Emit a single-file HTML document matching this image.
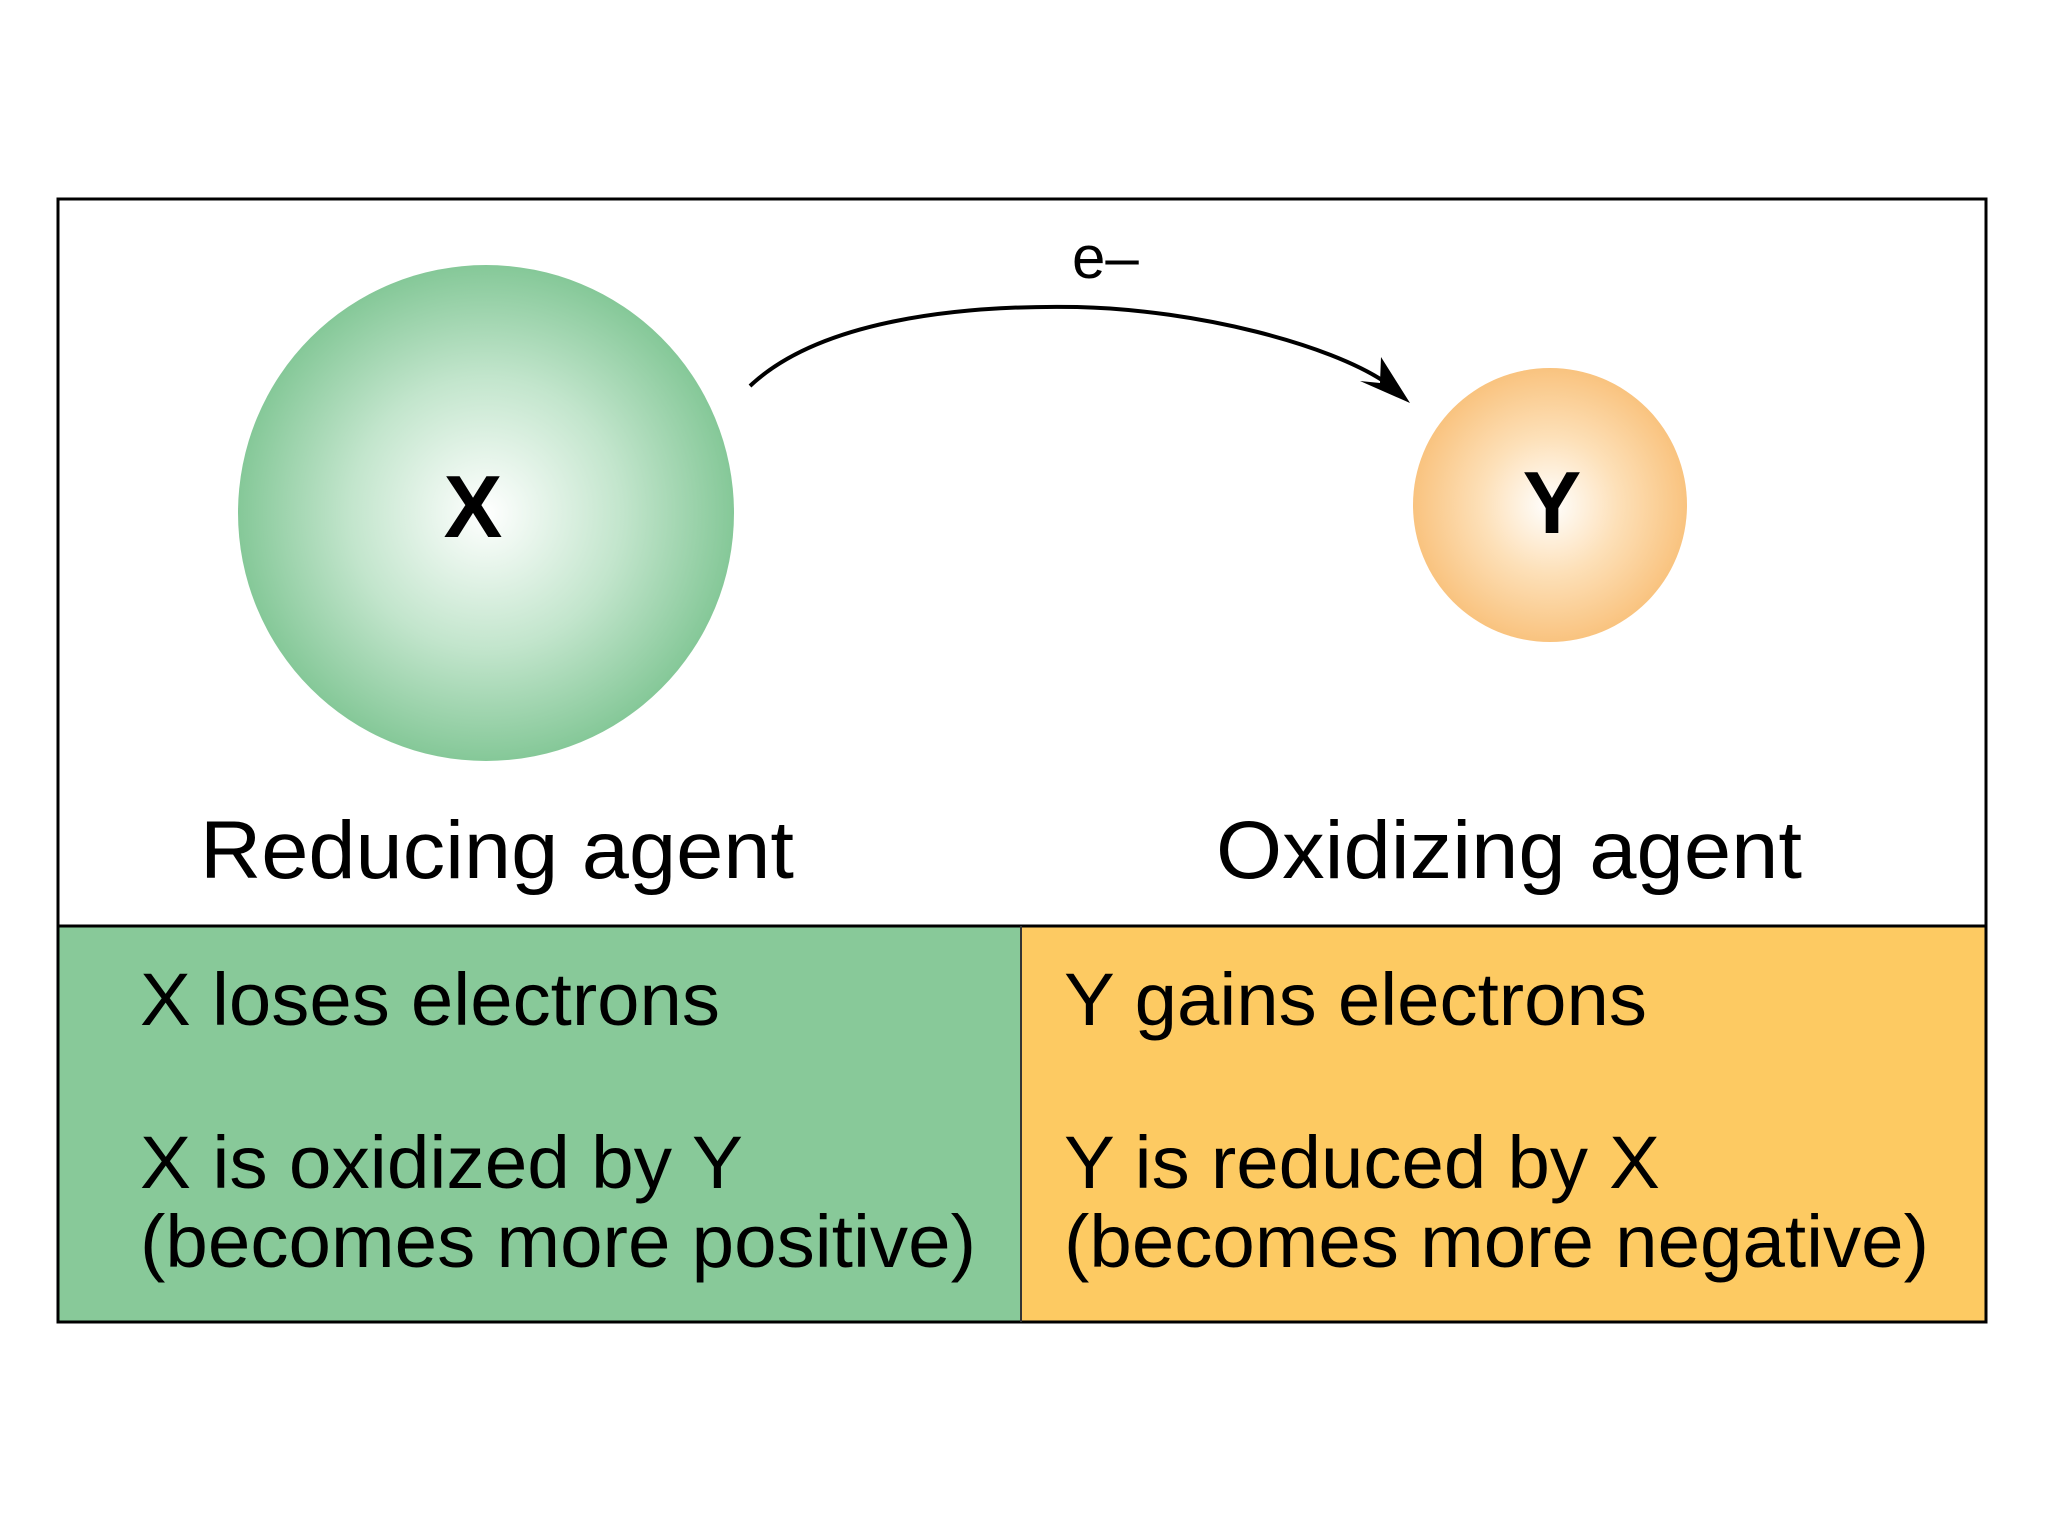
<!DOCTYPE html>
<html><head><meta charset="utf-8"><style>
html,body{margin:0;padding:0;background:#fff;}
svg{display:block;}
text{font-family:"Liberation Sans",Arial,sans-serif;fill:#000;}
</style></head><body>
<svg width="2048" height="1536" viewBox="0 0 2048 1536" xmlns="http://www.w3.org/2000/svg">
<defs>
<radialGradient id="g" cx="0.5" cy="0.5" r="0.5">
<stop offset="0" stop-color="#ffffff"/>
<stop offset="0.55" stop-color="#c2e5cc"/>
<stop offset="1" stop-color="#85c898"/>
</radialGradient>
<radialGradient id="o" cx="0.5" cy="0.5" r="0.5">
<stop offset="0" stop-color="#ffffff"/>
<stop offset="0.5" stop-color="#fde0b8"/>
<stop offset="1" stop-color="#f9c37f"/>
</radialGradient>
</defs>
<rect x="0" y="0" width="2048" height="1536" fill="#fff"/>
<rect x="57" y="926" width="964" height="396" fill="#88c999"/>
<rect x="1021" y="926" width="966" height="396" fill="#fdca62"/>
<rect x="58" y="199" width="1928" height="1123" fill="none" stroke="#000" stroke-width="3"/>
<line x1="57" y1="926" x2="1987" y2="926" stroke="#000" stroke-width="3"/>
<line x1="1021" y1="926" x2="1021" y2="1322" stroke="#333" stroke-width="2"/>
<circle cx="486" cy="513" r="248" fill="url(#g)"/>
<circle cx="1550" cy="505" r="137" fill="url(#o)"/>
<text x="473" y="537" font-size="88" font-weight="bold" text-anchor="middle">X</text>
<text x="1552" y="533" font-size="88" font-weight="bold" text-anchor="middle">Y</text>
<path d="M750,386 C820,320 960,305 1077,307 C1200,310 1330,345 1385,382" fill="none" stroke="#000" stroke-width="4"/>
<path d="M1410,403 L1381,357 L1380,383 L1360,381 Z" fill="#000"/>
<text x="1072" y="278" font-size="60">e–</text>
<text x="200" y="878" font-size="82" textLength="594" lengthAdjust="spacingAndGlyphs">Reducing agent</text>
<text x="1216" y="878" font-size="82" textLength="586" lengthAdjust="spacingAndGlyphs">Oxidizing agent</text>
<text x="140" y="1025" font-size="74" textLength="580" lengthAdjust="spacingAndGlyphs">X loses electrons</text>
<text x="140" y="1188" font-size="74" textLength="603" lengthAdjust="spacingAndGlyphs">X is oxidized by Y</text>
<text x="140" y="1267" font-size="74" textLength="836" lengthAdjust="spacingAndGlyphs">(becomes more positive)</text>
<text x="1064" y="1025" font-size="74" textLength="583" lengthAdjust="spacingAndGlyphs">Y gains electrons</text>
<text x="1064" y="1188" font-size="74" textLength="596" lengthAdjust="spacingAndGlyphs">Y is reduced by X</text>
<text x="1064" y="1267" font-size="74" textLength="865" lengthAdjust="spacingAndGlyphs">(becomes more negative)</text>
</svg>
</body></html>
